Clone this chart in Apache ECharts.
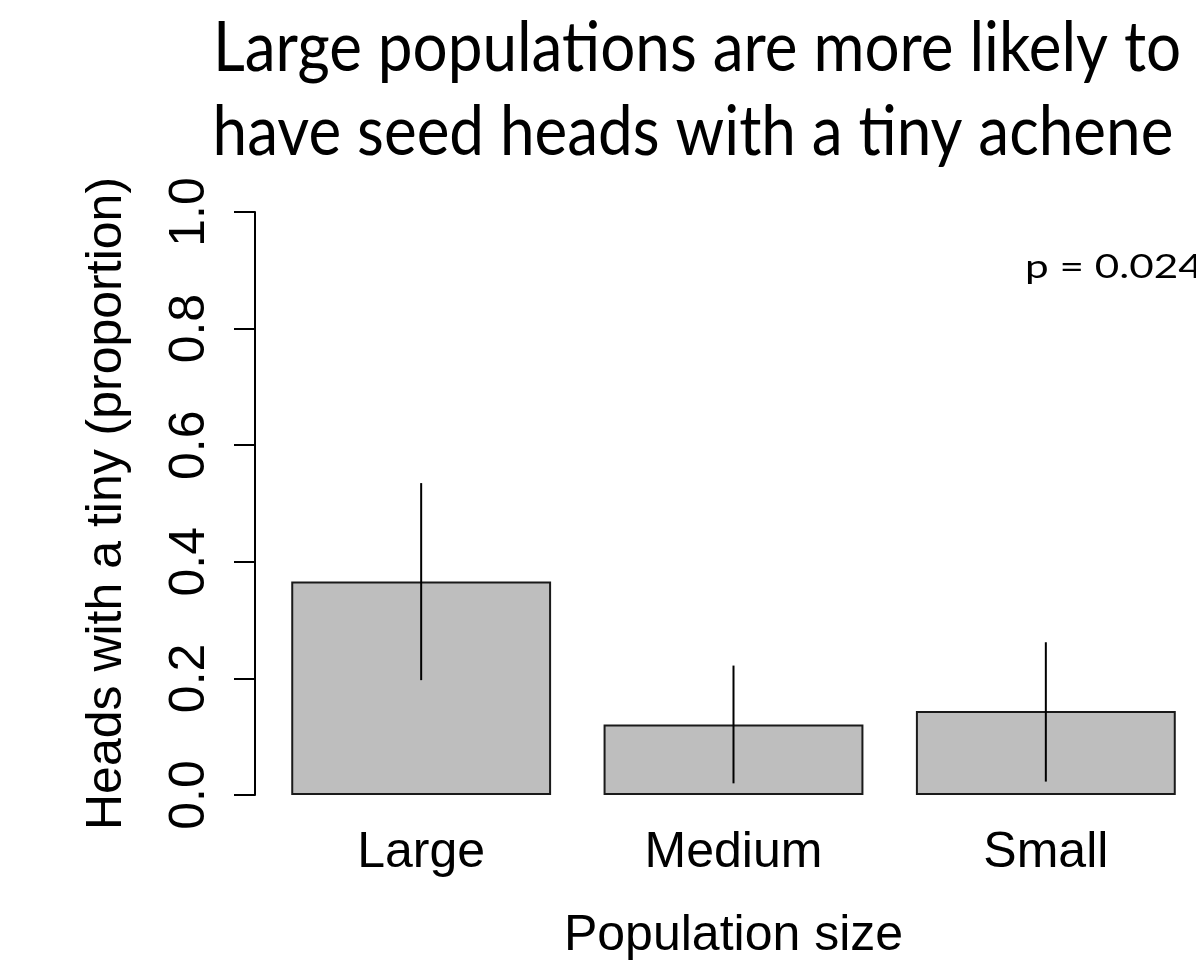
<!DOCTYPE html>
<html>
<head>
<meta charset="utf-8">
<script src="https://cdn.jsdelivr.net/npm/echarts@6/dist/echarts.min.js"></script>
<style>html,body{margin:0;padding:0;background:#fff;}#c{width:1196px;height:976px;}</style>
</head>
<body>
<div id="c"></div>
<script>
const categories = ['Large', 'Medium', 'Small'];
const proportions = [0.366, 0.121, 0.144];
const errLow = [0.197, 0.020, 0.023];
const errHigh = [0.535, 0.222, 0.262];
const yTicks = [0, 0.2, 0.4, 0.6, 0.8, 1.0];
const titleLines = ['Large populations are more likely to', 'have seed heads with a tiny achene'];
const pText = 'p = 0.024';

const chart = echarts.init(document.getElementById('c'));
const errData = categories.map((c, i) => [i, errLow[i], errHigh[i]]);
const titleFont = 'normal 62px Lato';
chart.setOption({
  animation: false,
  backgroundColor: '#fff',
  graphic: [
    { type: 'text', x: 697, y: 83, scaleY: 1.12,
      style: { text: titleLines[0], font: titleFont, fill: '#000', align: 'center', verticalAlign: 'bottom' } },
    { type: 'text', x: 693, y: 167, scaleY: 1.12,
      style: { text: titleLines[1], font: titleFont, fill: '#000', align: 'center', verticalAlign: 'bottom' } },
    { type: 'text', x: 1025, y: 284, scaleX: 1.32,
      style: { text: pText, font: 'normal 32px Lato', fill: '#000', align: 'left', verticalAlign: 'bottom' } }
  ],
  grid: { left: 265, width: 937, top: 212, bottom: 181, containLabel: false, outerBoundsMode: 'none' },
  xAxis: {
    type: 'category', data: categories,
    axisLine: { show: false }, axisTick: { show: false },
    axisLabel: { fontFamily: 'Liberation Sans', fontSize: 50, color: '#000', margin: 33 },
    name: 'Population size', nameLocation: 'middle', nameGap: 116,
    nameTextStyle: { fontFamily: 'Liberation Sans', fontSize: 50, color: '#000' }
  },
  yAxis: {
    type: 'value', min: 0, max: 1, interval: 0.2, offset: 10,
    axisLine: { show: true, lineStyle: { color: '#000', width: 2 } },
    axisTick: { show: true, length: 21, lineStyle: { color: '#000', width: 2 } },
    splitLine: { show: false },
    axisLabel: { fontFamily: 'Liberation Sans', fontSize: 50, color: '#000', rotate: 90, margin: 40,
      formatter: v => v.toFixed(1) },
    name: 'Heads with a tiny (proportion)', nameLocation: 'middle', nameRotate: 90, nameGap: 123,
    nameTextStyle: { fontFamily: 'Liberation Sans', fontSize: 50, color: '#000' }
  },
  series: [
    { type: 'bar', data: proportions, barCategoryGap: '16.8%',
      itemStyle: { color: '#bebebe', borderColor: '#1a1a1a', borderWidth: 2 } },
    { type: 'custom', data: errData, encode: { x: 0, y: [1, 2] }, z: 5,
      renderItem: (params, api) => {
        const p1 = api.coord([api.value(0), api.value(1)]);
        const p2 = api.coord([api.value(0), api.value(2)]);
        return { type: 'line', shape: { x1: p1[0], y1: p1[1], x2: p2[0], y2: p2[1] },
          style: { stroke: '#000', lineWidth: 2 } };
      } }
  ]
});
</script>
</body>
</html>
